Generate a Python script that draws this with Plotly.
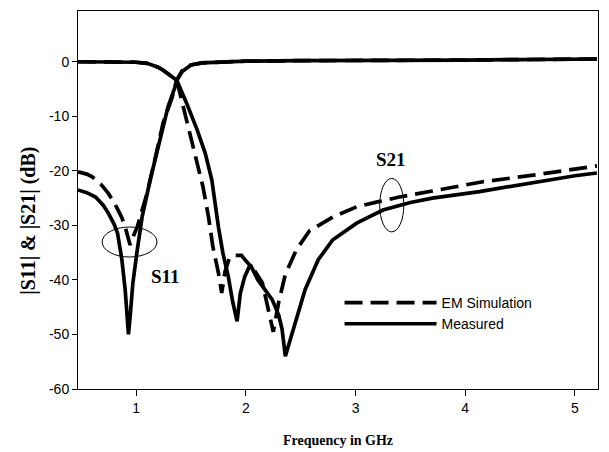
import plotly.graph_objects as go

# ---- data (frequency in GHz, magnitude in dB) ----
f_s11_sim = [0.47, 0.55, 0.6, 0.68, 0.745, 0.8, 0.835, 0.87, 0.9, 0.925, 0.945, 0.97, 1.01, 1.05, 1.1,
             1.17, 1.246, 1.33, 1.37, 1.42, 1.5, 1.6, 1.8, 2.0, 2.5, 3.0, 3.5, 4.0, 4.5, 5.0, 5.2]
s11_sim = [-20.2, -20.6, -21.1, -22.5, -24.1, -25.8, -27.2, -28.6, -30.3, -32.0, -33.6, -32.2, -30.3, -27.5, -24.1,
           -18.0, -11.2, -6.4, -3.4, -1.6, -0.6, -0.2, 0.0, 0.1, 0.2, 0.2, 0.3, 0.3, 0.4, 0.5, 0.5]

f_s11_meas = [0.47, 0.55, 0.63, 0.7, 0.745, 0.8, 0.83, 0.87, 0.9, 0.915, 0.93, 0.945, 0.97, 1.01, 1.055, 1.13,
              1.2, 1.29, 1.355, 1.37, 1.42, 1.5, 1.6, 1.8, 2.0, 2.5, 3.0, 3.5, 4.0, 4.5, 5.0, 5.2]
s11_meas = [-23.5, -24.0, -24.8, -26.3, -27.7, -29.8, -31.4, -36.3, -41.8, -45.5, -50.0, -46.8, -40.6, -34.5, -28.4, -21.5,
            -15.5, -8.3, -4.6, -3.4, -1.8, -0.6, -0.2, 0.0, 0.1, 0.2, 0.2, 0.3, 0.3, 0.4, 0.5, 0.5]

f_s21_sim = [0.47, 0.7, 0.9, 1.0, 1.1, 1.15, 1.2, 1.25, 1.3, 1.35, 1.37, 1.43, 1.49, 1.556, 1.61, 1.66, 1.70,
             1.75, 1.78, 1.81, 1.85, 1.9, 1.96, 2.0, 2.07, 2.15, 2.2, 2.25, 2.3, 2.36, 2.46, 2.58, 2.8, 3.01,
             3.2, 3.4, 3.7, 4.0, 4.16, 4.62, 5.0, 5.2]
s21_sim = [0.0, 0.0, 0.0, -0.1, -0.3, -0.6, -1.0, -1.6, -2.4, -3.0, -3.4, -8.3, -13.1, -18.0, -23.0, -28.5, -34.0,
           -38.7, -42.4, -38.5, -36.0, -35.5, -35.5, -36.5, -38.0, -40.5, -45.0, -49.5, -44.0, -39.0, -34.5, -31.0, -28.4, -26.6,
           -25.7, -24.8, -23.7, -22.6, -22.0, -20.8, -19.6, -19.1]

f_s21_meas = [0.47, 0.7, 0.9, 1.0, 1.1, 1.15, 1.2, 1.25, 1.3, 1.35, 1.37, 1.46, 1.556, 1.63, 1.69, 1.75, 1.79,
              1.84, 1.88, 1.92, 1.95, 1.99, 2.04, 2.11, 2.18, 2.24, 2.3, 2.33, 2.36, 2.45, 2.54, 2.66, 2.79, 3.01,
              3.25, 3.5, 3.7, 4.13, 4.6, 5.0, 5.2]
s21_meas = [0.0, 0.0, 0.0, -0.1, -0.3, -0.6, -1.0, -1.6, -2.4, -3.0, -3.4, -7.6, -12.5, -16.8, -21.7, -30.3, -35.0,
            -39.4, -44.0, -47.6, -42.4, -39.4, -37.2, -40.0, -42.0, -43.6, -46.5, -49.0, -54.0, -47.9, -41.8, -36.3, -32.7, -29.6,
            -27.2, -25.8, -25.0, -23.8, -22.2, -20.9, -20.4]

x_ticks = [1, 2, 3, 4, 5]
y_ticks = [0, -10, -20, -30, -40, -50, -60]

DASH = "18px,8px"
LW = 3.7

fig = go.Figure()
fig.add_trace(go.Scatter(x=f_s11_sim, y=s11_sim, mode="lines", name="EM Simulation",
                         line=dict(color="black", width=LW, dash=DASH), legendgroup="sim", showlegend=True))
fig.add_trace(go.Scatter(x=f_s21_sim, y=s21_sim, mode="lines", name="EM Simulation",
                         line=dict(color="black", width=LW, dash=DASH), legendgroup="sim", showlegend=False))
fig.add_trace(go.Scatter(x=f_s11_meas, y=s11_meas, mode="lines", name="Measured",
                         line=dict(color="black", width=LW), legendgroup="meas", showlegend=True))
fig.add_trace(go.Scatter(x=f_s21_meas, y=s21_meas, mode="lines", name="Measured",
                         line=dict(color="black", width=LW), legendgroup="meas", showlegend=False))

# ellipses marking S11 and S21
fig.add_shape(type="circle", xref="x", yref="y", x0=0.69, x1=1.19, y0=-35.8, y1=-30.3,
              line=dict(color="black", width=1))
fig.add_shape(type="circle", xref="x", yref="y", x0=3.22, x1=3.44, y0=-31.2, y1=-21.4,
              line=dict(color="black", width=1))

fig.add_annotation(x=1.27, y=-39.3, text="<b>S11</b>", showarrow=False,
                   font=dict(family="Liberation Serif", size=19, color="black"))
fig.add_annotation(x=3.32, y=-18.0, text="<b>S21</b>", showarrow=False,
                   font=dict(family="Liberation Serif", size=19, color="black"))

# y-axis title (placed as rotated text, centred a little below the plot middle as in the original)
fig.add_annotation(xref="paper", yref="paper", x=-0.095, y=0.444, xanchor="center", yanchor="middle",
                   text="<b>|S11| &amp; |S21| (dB)</b>", textangle=-90, showarrow=False,
                   font=dict(family="Liberation Serif", size=20, color="black"))

# page body adds an 8px offset, so the figure is 8px smaller than the window
fig.update_layout(
    width=601, height=444,
    margin=dict(l=70, r=11, t=3, b=63),
    plot_bgcolor="white", paper_bgcolor="white",
    showlegend=True,
    legend=dict(x=0.503, y=0.27, xanchor="left", yanchor="top", bgcolor="rgba(0,0,0,0)",
                font=dict(family="Liberation Sans", size=14, color="black"),
                itemwidth=92, tracegroupgap=0),
    font=dict(family="Liberation Sans", color="black"),
)
fig.update_xaxes(range=[0.47, 5.21], tickvals=x_ticks, ticktext=[str(v) for v in x_ticks],
                 showgrid=False, zeroline=False, showline=True, linecolor="black", linewidth=1,
                 mirror=True, ticks="outside", ticklen=6, tickcolor="black",
                 tickfont=dict(family="Liberation Sans", size=14, color="black"),
                 title=dict(text="<b>Frequency in GHz</b>", standoff=20,
                            font=dict(family="Liberation Serif", size=14, color="black")))
fig.update_yaxes(range=[-60, 9.3], tickvals=y_ticks, ticktext=[str(v) for v in y_ticks],
                 showgrid=False, zeroline=False, showline=True, linecolor="black", linewidth=1,
                 mirror=True, ticks="outside", ticklen=5, tickcolor="black",
                 tickfont=dict(family="Liberation Sans", size=14, color="black"))

fig.write_html("out.html")
